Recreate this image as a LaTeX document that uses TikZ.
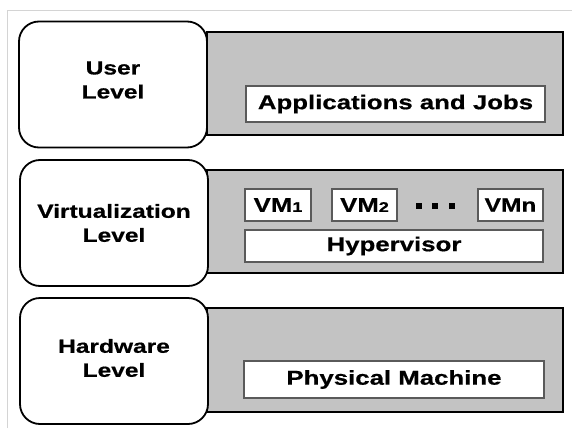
\documentclass[tikz,border=0pt]{standalone}
\usepackage{fontspec}
\setmainfont{Liberation Sans}[FakeStretch=1.29,BoldFeatures={FakeBold=0.6}]
\definecolor{layergray}{HTML}{C3C3C3}
\definecolor{framegray}{HTML}{D4D4D4}
\definecolor{boxedge}{HTML}{5A5A5A}
\begin{document}
\begin{tikzpicture}[x=1pt,y=-1pt,
  levelbox/.style={draw=black,line width=1.8pt,fill=white,rounded corners=20pt,
    minimum width=188pt,minimum height=126pt,inner sep=0pt},
  leveltext/.style={align=center,inner sep=0pt,
    font=\fontsize{19}{24}\selectfont\bfseries},
  layer/.style={draw=black,line width=1.8pt,fill=layergray,minimum width=356pt,
    minimum height=103pt,inner sep=0pt},
  whitebox/.style={draw=boxedge,line width=1.3pt,fill=white,inner sep=0pt,
    font=\fontsize{20}{22}\selectfont\bfseries},
  dotsq/.style={fill=black,minimum size=5.5pt,inner sep=0pt}
]
\useasboundingbox (0,0) rectangle (572,428);
\fill[white] (0,0) rectangle (572,428);
\draw[framegray,line width=0.8pt] (7,428) coordinate (fbl) -- (7,10) coordinate (ftl) -- (572,10) coordinate (ftr);

% user level
\node[layer] (ul) at (385,83.5) {};
\node[levelbox] (ub) at (113,84.5) {};
\node[leveltext] (ubt) at (113,80) {User\\Level};
\node[whitebox,minimum width=299pt,minimum height=36pt] (app) at (395.5,104) {Applications and Jobs};

% virtualization level
\node[layer] (vl) at (385,221.5) {};
\node[levelbox] (vb) at (114,223) {};
\node[leveltext] (vbt) at (114,223) {Virtualization\\Level};
\node[whitebox,minimum width=66pt,minimum height=32pt] (vm1) at (278,205) {VM{\fontsize{14}{14}\selectfont 1}};
\node[whitebox,minimum width=65pt,minimum height=32pt] (vm2) at (364.5,205) {VM{\fontsize{14}{14}\selectfont 2}};
\node[whitebox,minimum width=65pt,minimum height=32pt,font=\fontsize{19}{22}\selectfont\bfseries] (vmn) at (510.5,205) {VMn};
\node[dotsq] (d1) at (419,206) {};
\node[dotsq] (d2) at (435,206) {};
\node[dotsq] (d3) at (452,206) {};
\node[whitebox,minimum width=298pt,minimum height=32pt] (hyp) at (394,246) {Hypervisor};

% hardware level
\node[layer,minimum height=104pt] (hl) at (385,360) {};
\node[levelbox] (hb) at (114,361) {};
\node[leveltext] (hbt) at (114,358) {Hardware\\Level};
\node[whitebox,minimum width=300pt,minimum height=37pt] (pm) at (394,379.5) {Physical Machine};
\end{tikzpicture}
\end{document}
